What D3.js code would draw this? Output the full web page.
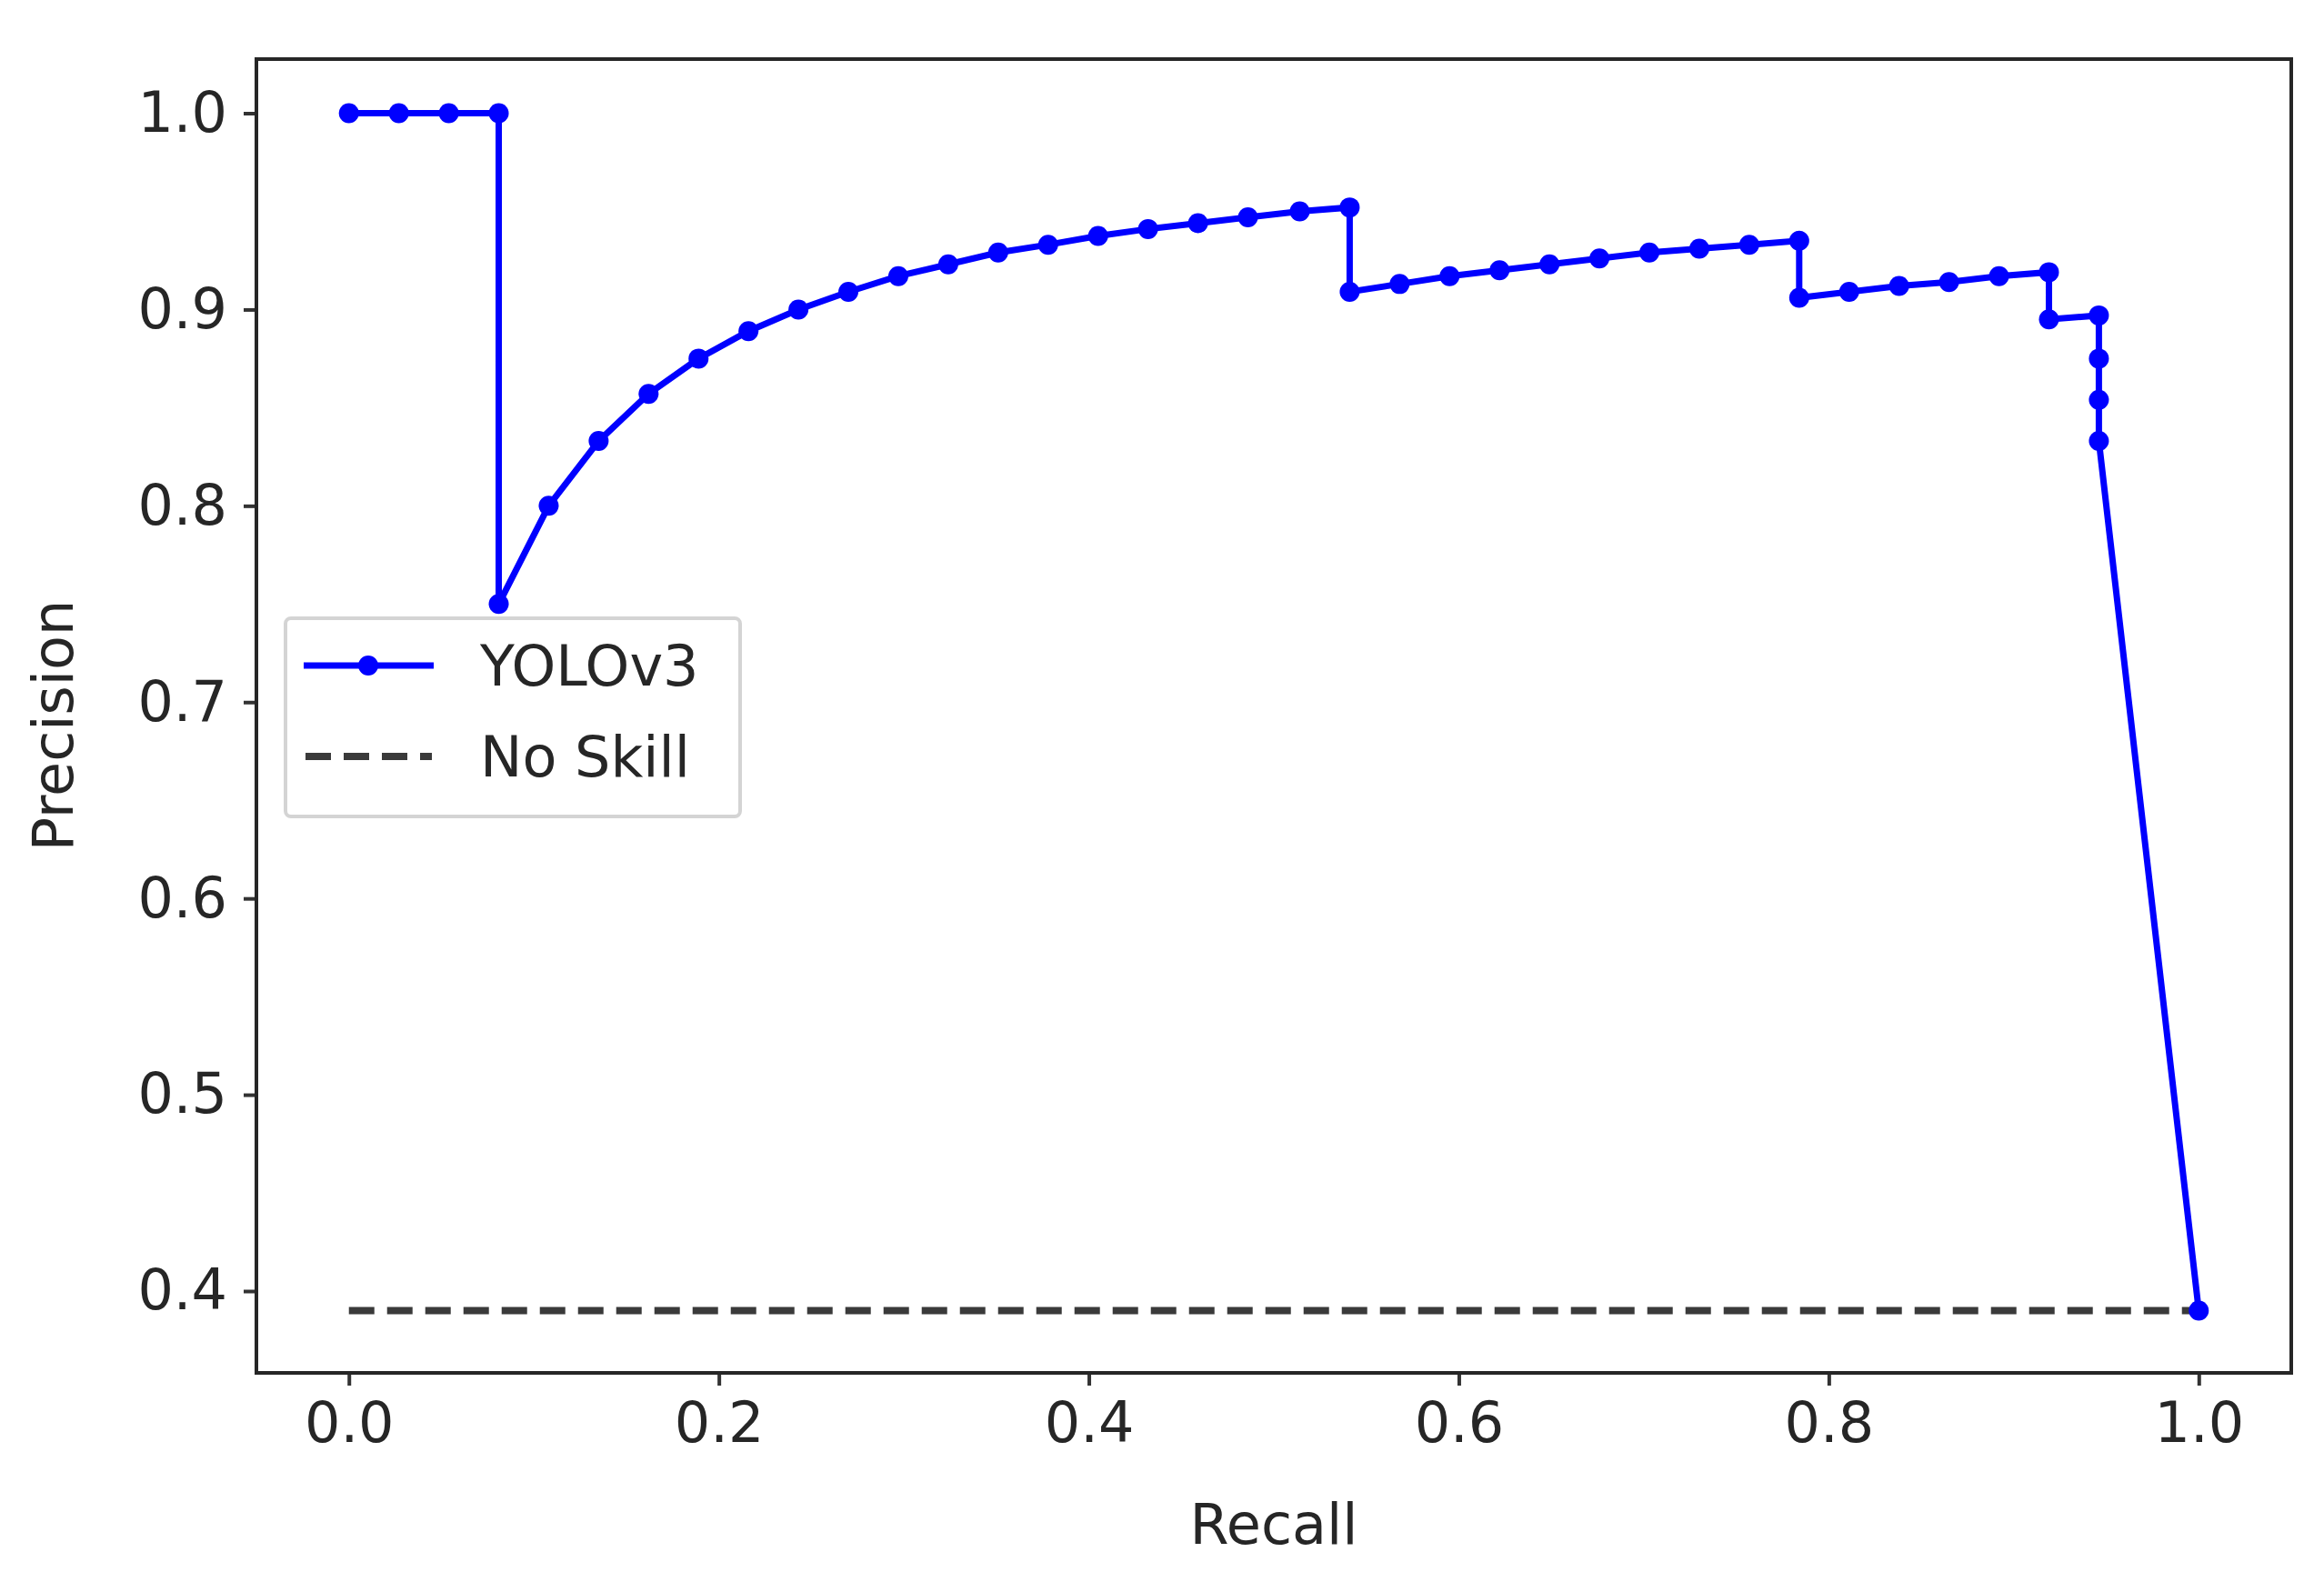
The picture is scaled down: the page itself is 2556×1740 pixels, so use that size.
<!DOCTYPE html>
<html><head><meta charset="utf-8">
<script src="https://cdn.jsdelivr.net/npm/d3@7"></script>
<style>body{margin:0;background:#fff}</style></head>
<body><svg id="c" width="2556" height="1740"></svg>
<script>
// recall values (fraction of 37 positives) and precision
const recall = [0,0.027,0.054,0.081,0.081,0.108,0.135,0.162,0.189,0.216,0.243,0.270,0.297,0.324,0.351,0.378,0.405,0.432,0.459,0.486,0.514,0.541,
  0.541,0.568,0.595,0.622,0.649,0.676,0.703,0.730,0.757,0.784,
  0.784,0.811,0.838,0.865,0.892,0.919,
  0.919,0.946,0.946,0.946,0.946,1.0];
const precision = [1,1,1,1,0.75,0.8,0.833,0.857,0.875,0.889,0.9,0.909,0.917,0.923,0.929,0.933,0.9375,0.941,0.944,0.947,0.95,0.952,
  0.909,0.913,0.917,0.92,0.923,0.926,0.929,0.931,0.933,0.935,
  0.906,0.909,0.912,0.914,0.917,0.919,
  0.895,0.897,0.875,0.854,0.833,0.39];
const noSkill = 0.39;
const xTicks = [0,0.2,0.4,0.6,0.8,1.0];
const yTicks = [0.4,0.5,0.6,0.7,0.8,0.9,1.0];
const seriesNames = ["YOLOv3","No Skill"];

const svg = d3.select("#c");
const L=282,R=2520,T=65,B=1510;
const x = d3.scaleLinear().domain([-0.05,1.05]).range([L,R]);
const y = d3.scaleLinear().domain([0.4,1.0]).range([1420,124.5]);
const font="DejaVu Sans", tc="#262626", fs=62;

const xa = svg.append("g").attr("transform",`translate(0,${B})`)
  .call(d3.axisBottom(x).tickValues(xTicks).tickFormat(d3.format(".1f")).tickSize(14).tickPadding(18));
const ya = svg.append("g").attr("transform",`translate(${L},0)`)
  .call(d3.axisLeft(y).tickValues(yTicks).tickFormat(d3.format(".1f")).tickSize(14).tickPadding(18));
[xa,ya].forEach(a=>{a.select(".domain").remove();
  a.selectAll("line").attr("stroke","#333").attr("stroke-width",4);
  a.selectAll("text").attr("font-family",font).attr("font-size",fs).attr("fill",tc);});

svg.append("line").attr("x1",x(0)).attr("x2",x(1)).attr("y1",y(noSkill)).attr("y2",y(noSkill))
  .attr("stroke","#3a3a3a").attr("stroke-width",8).attr("stroke-dasharray","28,14");

const pts = recall.map((r,i)=>[r,precision[i]]);
svg.append("path").datum(pts).attr("fill","none").attr("stroke","#0000ff").attr("stroke-width",7)
  .attr("d",d3.line().x(d=>x(d[0])).y(d=>y(d[1])));
svg.append("g").selectAll("circle").data(pts).join("circle")
  .attr("cx",d=>x(d[0])).attr("cy",d=>y(d[1])).attr("r",11).attr("fill","#0000ff");

svg.append("rect").attr("x",L).attr("y",T).attr("width",R-L).attr("height",B-T)
  .attr("fill","none").attr("stroke","#262626").attr("stroke-width",4);

// legend
const lg = svg.append("g");
lg.append("rect").attr("x",314).attr("y",680).attr("width",500).attr("height",218).attr("rx",6)
  .attr("fill","#fff").attr("fill-opacity",0.8).attr("stroke","#d4d4d4").attr("stroke-width",4);
lg.append("line").attr("x1",334).attr("x2",477).attr("y1",732).attr("y2",732).attr("stroke","#0000ff").attr("stroke-width",7);
lg.append("circle").attr("cx",405).attr("cy",732).attr("r",11).attr("fill","#0000ff");
lg.append("line").attr("x1",336).attr("x2",475).attr("y1",832).attr("y2",832).attr("stroke","#3a3a3a").attr("stroke-width",8).attr("stroke-dasharray","28,14");
lg.selectAll("text.l").data(seriesNames).join("text").attr("x",528).attr("y",(d,i)=>732+i*100+22)
  .attr("font-family",font).attr("font-size",fs).attr("fill",tc).text(d=>d);

svg.append("text").attr("x",(L+R)/2).attr("y",1698).attr("text-anchor","middle")
  .attr("font-family",font).attr("font-size",fs).attr("fill",tc).text("Recall");
svg.append("text").attr("transform",`translate(80,798) rotate(-90)`).attr("text-anchor","middle")
  .attr("font-family",font).attr("font-size",fs).attr("fill",tc).text("Precision");
</script></body></html>
